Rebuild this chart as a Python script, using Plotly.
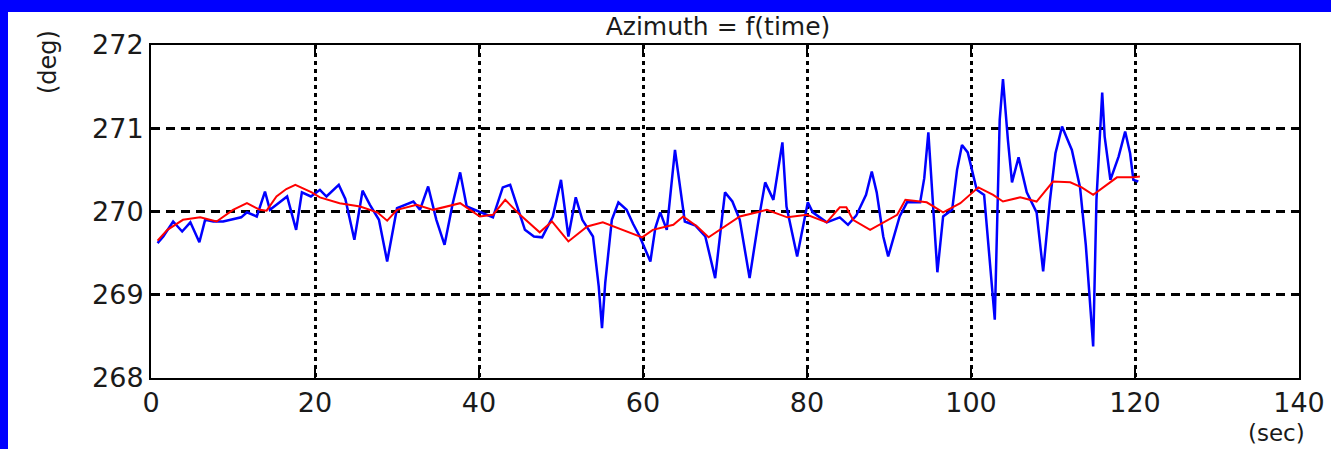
import plotly.graph_objects as go

# Blue: raw azimuth samples (time in sec, value in deg)
blue_t = [0.8, 1.5, 2.7, 3.8, 4.8, 5.9, 6.6, 7.6, 8.8, 10, 11, 11.7, 12.9, 13.9, 14.5, 15.3, 16.6, 17.7,
          18.4, 19.5, 20.6, 21.4, 22.9, 23.7, 24.8, 25.8, 26.7, 27.8, 28.8, 30, 31, 32, 32.8, 33.8, 34.8,
          35.8, 36.8, 37.7, 38.5, 40, 41.7, 42.9, 43.8, 44.7, 45.6, 46.7, 47.7, 49, 50, 50.9, 51.8, 52.6,
          53.9, 54.6, 55, 55.4, 56.2, 57, 58, 58.8, 59.6, 60.9, 61.5, 62.1, 62.9, 63.9, 64.5, 65.1, 66.4,
          67.6, 68.8, 70, 70.9, 71.8, 73, 74.1, 74.9, 75.9, 77, 77.5, 78.8, 79.5, 80.1, 80.7, 82.4, 84, 85,
          86, 87.2, 87.9, 88.5, 89.3, 89.9, 91.3, 92.2, 93.8, 94.3, 94.8, 95.3, 95.9, 96.6, 97.7, 98.3,
          98.9, 99.6, 100.7, 101.6, 102.2, 102.9, 103.5, 103.9, 104.5, 105, 105.8, 106.8, 108, 108.8,
          109.6, 110.3, 111.1, 112.3, 113.3, 114.0, 114.9, 115.3, 116, 116.3, 117, 118, 118.8, 119.4,
          119.8, 120.4]
blue_v = [269.62, 269.7, 269.88, 269.76, 269.87, 269.63, 269.9, 269.88, 269.88, 269.91, 269.93, 269.99,
          269.94, 270.24, 270.02, 270.08, 270.18, 269.78, 270.23, 270.18, 270.26, 270.18, 270.32, 270.15,
          269.66, 270.25, 270.08, 269.9, 269.4, 270.04, 270.08, 270.12, 270.02, 270.3, 269.9, 269.6,
          270.1, 270.47, 270.06, 270.0, 269.93, 270.29, 270.32, 270.05, 269.78, 269.7, 269.69, 269.94,
          270.38, 269.7, 270.17, 269.9, 269.7, 269.1, 268.6, 269.15, 269.9, 270.11, 270.02, 269.85,
          269.7, 269.4, 269.8, 269.99, 269.78, 270.74, 270.3, 269.88, 269.83, 269.7, 269.2, 270.23,
          270.12, 269.9, 269.2, 269.9, 270.35, 270.14, 270.83, 270.06, 269.46, 269.8, 270.11, 269.99,
          269.87, 269.93, 269.84, 269.95, 270.2, 270.48, 270.23, 269.7, 269.46, 269.94, 270.11, 270.11,
          270.4, 270.95, 270.2, 269.27, 269.94, 270.02, 270.5, 270.8, 270.71, 270.26, 270.2, 269.5,
          268.7, 271.1, 271.59, 270.86, 270.35, 270.65, 270.23, 269.99, 269.28, 270.11, 270.7, 271.02,
          270.74, 270.29, 269.6, 268.38, 270.14, 271.43, 270.9, 270.38, 270.66, 270.96, 270.7, 270.38,
          270.36]

# Red: smoothed azimuth
red_t = [0.8, 2, 3.9, 6, 8, 10, 11.7, 13.3, 14.1, 15.3, 16.5, 17.6, 19.6, 20.6, 23, 25.5, 27.6, 28.8,
         30, 32.4, 34.4, 36.2, 37.7, 40.1, 41.7, 43.2, 45, 47.4, 48.9, 50.9, 53.2, 55.1, 57.4, 59.9,
         61.2, 63.7, 64.9, 66.6, 68, 69.8, 71.8, 74.3, 75.1, 77.6, 80, 82.4, 84, 84.8, 85.6, 87.7, 89.8,
         91, 92, 94.6, 96.6, 98.7, 100.9, 102.7, 103.9, 106, 108, 110, 112.1, 113.5, 114.9, 117, 117.8,
         119.8, 120.6]
red_v = [269.65, 269.78, 269.9, 269.93, 269.88, 270.02, 270.1, 270.02, 270.01, 270.18, 270.27, 270.32,
         270.23, 270.17, 270.1, 270.06, 269.99, 269.89, 270.02, 270.08, 270.02, 270.06, 270.1, 269.94,
         269.96, 270.14, 269.96, 269.75, 269.88, 269.64, 269.82, 269.87, 269.78, 269.69, 269.78, 269.84,
         269.94, 269.82, 269.69, 269.81, 269.94, 270.0, 270.02, 269.93, 269.96, 269.87, 270.05, 270.05,
         269.9, 269.78, 269.9, 269.96, 270.14, 270.11, 269.99, 270.1, 270.29, 270.2, 270.12, 270.17,
         270.12, 270.36, 270.35, 270.29, 270.2, 270.35, 270.41, 270.41, 270.42]

x_ticks = [0, 20, 40, 60, 80, 100, 120, 140]
y_ticks = [268, 269, 270, 271, 272]

W, H = 1331, 449
L, R, T, B = 151, 32, 45, 71
PW, PH = W - L - R, H - T - B


def px_x(p):
    return (p - L) / PW


def px_y(p):
    return 1 - (p - T) / PH


FONT = "DejaVu Sans"

fig = go.Figure()
fig.add_trace(go.Scatter(x=blue_t, y=blue_v, mode="lines",
                         line=dict(color="#0000FF", width=2.5), showlegend=False))
fig.add_trace(go.Scatter(x=red_t, y=red_v, mode="lines",
                         line=dict(color="#FF0000", width=2), showlegend=False))

axis_common = dict(showline=True, linecolor="black", linewidth=2, mirror="ticks",
                   ticks="inside", tickcolor="black", tickwidth=2, zeroline=False,
                   showgrid=True, gridcolor="black",
                   tickfont=dict(family=FONT, size=27, color="#1a1a1a"), automargin=False)

fig.update_xaxes(range=[0, 140], tickvals=x_ticks, ticktext=[str(v) for v in x_ticks],
                 griddash="4px,4px", gridwidth=3, ticklen=11, **axis_common)
fig.update_yaxes(range=[268, 272], tickvals=y_ticks, ticktext=[str(v) for v in y_ticks],
                 griddash="9px,6px", gridwidth=2.5, ticklen=8, **axis_common)

shapes = [
    dict(type="rect", xref="paper", yref="paper", x0=px_x(0), x1=px_x(8), y0=px_y(H), y1=px_y(0),
         fillcolor="#0000FF", line=dict(width=0)),
    dict(type="rect", xref="paper", yref="paper", x0=px_x(0), x1=px_x(W), y0=px_y(12), y1=px_y(0),
         fillcolor="#0000FF", line=dict(width=0)),
]

annotations = [
    dict(text="(deg)", xref="paper", yref="paper", x=px_x(48), y=px_y(62), showarrow=False,
         textangle=-90, font=dict(family=FONT, size=24, color="#1a1a1a"),
         xanchor="center", yanchor="middle"),
    dict(text="(sec)", xref="paper", yref="paper", x=px_x(1276), y=px_y(433), showarrow=False,
         font=dict(family=FONT, size=23, color="#1a1a1a"), xanchor="center", yanchor="middle"),
]

fig.update_layout(
    width=W, height=H,
    margin=dict(l=L, r=R, t=T, b=B),
    paper_bgcolor="white", plot_bgcolor="white",
    title=dict(text="Azimuth = f(time)", x=px_x(718), xref="paper", xanchor="center",
               y=1 - 26 / H, yref="container", yanchor="middle",
               font=dict(family=FONT, size=25, color="#1a1a1a")),
    shapes=shapes, annotations=annotations,
)

fig.write_html("out.html")
